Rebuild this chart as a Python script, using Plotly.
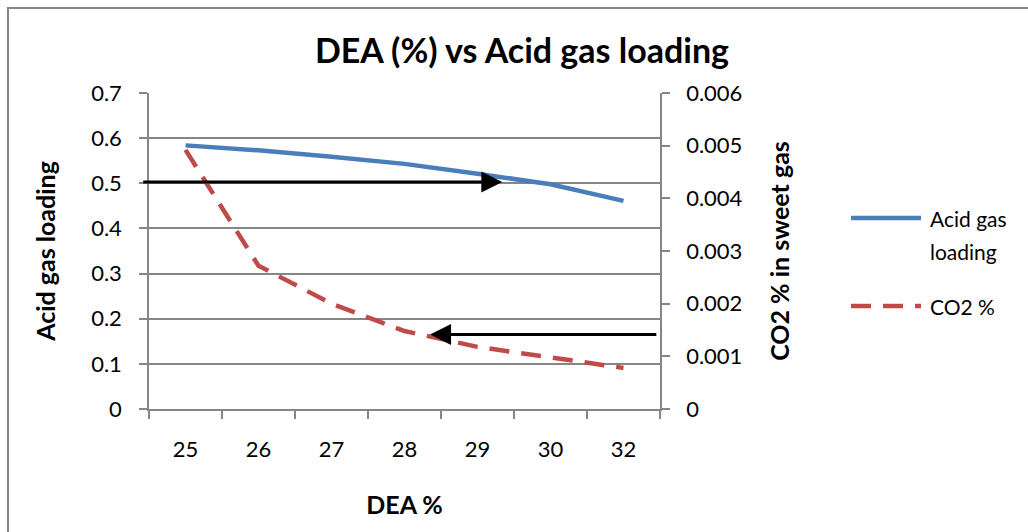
import plotly.graph_objects as go

categories = ["25", "26", "27", "28", "29", "30", "32"]
acid_gas_loading = [0.584, 0.573, 0.559, 0.543, 0.521, 0.498, 0.461]
co2_percent = [0.00492, 0.00272, 0.00200, 0.00148, 0.00118, 0.00097, 0.00078]

left_ticks = [0, 0.1, 0.2, 0.3, 0.4, 0.5, 0.6, 0.7]
right_ticks = [0, 0.001, 0.002, 0.003, 0.004, 0.005, 0.006]
right_ticktext = ["0", "0.001", "0.002", "0.003", "0.004", "0.005", "0.006"]

BLUE = "#4A7EBB"
RED = "#BE4B48"
GRID = "#868686"
FONT = "Lato"

W, H = 1028, 532
ML, MR, MT, MB = 149, 368, 93, 123
PW, PH = W - ML - MR, H - MT - MB


def px_x(p):
    return (p - ML) / PW


def px_y(p):
    return (H - MB - p) / PH


fig = go.Figure()
fig.add_trace(go.Scatter(x=categories, y=acid_gas_loading, mode="lines",
                         name="Acid gas loading",
                         line=dict(color=BLUE, width=4.5), yaxis="y",
                         showlegend=False))
fig.add_trace(go.Scatter(x=categories, y=co2_percent, mode="lines",
                         name="CO2 %",
                         line=dict(color=RED, width=4.5, dash="20px,12px"),
                         yaxis="y2", showlegend=False))

tick_font = dict(family=FONT, size=22, color="#000000")
legend_font = dict(family=FONT, size=21, color="#000000")
axis_title_font = dict(family=FONT, size=25, color="#000000")

fig.update_layout(
    width=W, height=H,
    margin=dict(l=ML, r=MR, t=MT, b=MB),
    paper_bgcolor="white", plot_bgcolor="white",
    font=tick_font,
    title=dict(text="<b>DEA (%) vs Acid gas loading</b>",
               font=dict(family=FONT, size=34, color="#000000"),
               x=px_x(522), xref="paper", xanchor="center",
               y=1 - 51 / H, yanchor="middle"),
    xaxis=dict(type="category", range=[-0.5, 6.5], tickson="boundaries",
               ticks="outside", ticklen=8, tickcolor=GRID, tickwidth=1.5,
               showline=True, linecolor=GRID, linewidth=1.5,
               showgrid=False, zeroline=False, ticklabelstandoff=20,
               tickfont=tick_font,
               title=dict(text="<b>DEA %</b>", standoff=35,
                          font=axis_title_font)),
    yaxis=dict(range=[0, 0.7], tickvals=left_ticks, ticks="outside",
               ticklen=8, tickcolor=GRID, tickwidth=1.5,
               showline=True, linecolor=GRID, linewidth=1.5,
               showgrid=True, gridcolor=GRID, gridwidth=1.5,
               zeroline=False, ticklabelstandoff=13, tickfont=tick_font,
               title=dict(text="<b>Acid gas loading</b>", standoff=28,
                          font=axis_title_font)),
    yaxis2=dict(range=[0, 0.006], tickvals=right_ticks,
                ticktext=right_ticktext, overlaying="y", side="right",
                ticks="outside", ticklen=8, tickcolor=GRID, tickwidth=1.5,
                showline=True, linecolor=GRID, linewidth=1.5,
                showgrid=False, zeroline=False, ticklabelstandoff=12,
                tickfont=tick_font,
                title=dict(text="<b>CO2 % in sweet gas</b>", standoff=30,
                           font=axis_title_font)),
)

# outer chart frame
fig.add_shape(type="rect", xref="paper", yref="paper",
              x0=px_x(8), x1=px_x(1100), y0=px_y(600), y1=px_y(8),
              line=dict(color=GRID, width=2), fillcolor="rgba(0,0,0,0)",
              layer="below")

# manual legend
fig.add_shape(type="line", xref="paper", yref="paper",
              x0=px_x(851), x1=px_x(921), y0=px_y(218), y1=px_y(218),
              line=dict(color=BLUE, width=4.5))
fig.add_shape(type="line", xref="paper", yref="paper",
              x0=px_x(851), x1=px_x(921), y0=px_y(306), y1=px_y(306),
              line=dict(color=RED, width=4.5, dash="20px,12px"))
fig.add_annotation(text="Acid gas", xref="paper", yref="paper",
                   x=px_x(928), y=px_y(218), xanchor="left", yanchor="middle",
                   align="left", showarrow=False, font=legend_font)
fig.add_annotation(text="loading", xref="paper", yref="paper",
                   x=px_x(928), y=px_y(251), xanchor="left", yanchor="middle",
                   align="left", showarrow=False, font=legend_font)
fig.add_annotation(text="CO2 %", xref="paper", yref="paper",
                   x=px_x(928), y=px_y(306), xanchor="left", yanchor="middle",
                   align="left", showarrow=False, font=legend_font)

# black arrows
fig.add_annotation(x=4.34, y=0.503, ax=-0.6, ay=0.503, xref="x", yref="y",
                   axref="x", ayref="y", text="", showarrow=True,
                   arrowhead=2, arrowsize=1.4, arrowwidth=3, arrowcolor="black")
fig.add_annotation(x=3.35, y=0.165, ax=6.47, ay=0.165, xref="x", yref="y",
                   axref="x", ayref="y", text="", showarrow=True,
                   arrowhead=2, arrowsize=1.4, arrowwidth=3, arrowcolor="black")

fig.write_html("out.html")
